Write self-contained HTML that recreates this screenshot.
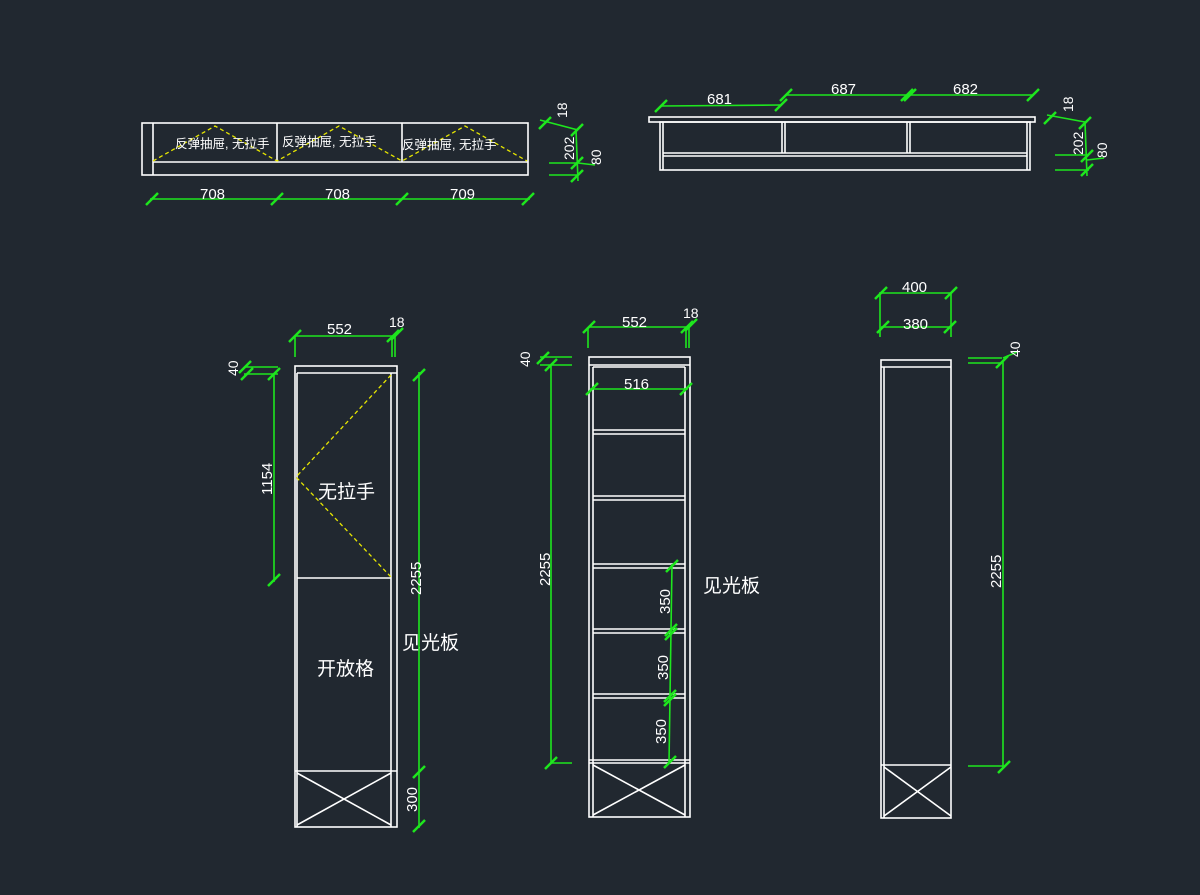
<!DOCTYPE html>
<html><head><meta charset="utf-8"><style>
html,body{margin:0;padding:0;background:#212830;}
svg{display:block}
text{font-family:"Liberation Sans","Noto Sans CJK SC",sans-serif;fill:#fff}
</style></head><body>
<svg width="1200" height="895" viewBox="0 0 1200 895" xmlns="http://www.w3.org/2000/svg">
<rect width="1200" height="895" fill="#212830"/>
<defs>
<g id="tk"><line x1="-6" y1="6" x2="6" y2="-6" stroke="#1ee61e" stroke-width="2.5"/></g>
</defs>
<!-- ===== Top-left cabinet ===== -->
<g fill="none" stroke="#fff" stroke-width="1.6">
<rect x="142" y="123" width="386" height="52"/>
<line x1="153" y1="123" x2="153" y2="175"/>
<line x1="153" y1="162" x2="528" y2="162"/>
<line x1="277" y1="123" x2="277" y2="162"/>
<line x1="402" y1="123" x2="402" y2="162"/>
</g>
<g fill="none" stroke="#e6e600" stroke-width="1.3" stroke-dasharray="4,3">
<polyline points="153,161 215,126 277,161 339,126 402,161 465,126 527,161"/>
</g>
<g font-size="12.5">
<text x="175" y="148">反弹抽屉, 无拉手</text>
<text x="282" y="146">反弹抽屉, 无拉手</text>
<text x="402" y="149">反弹抽屉, 无拉手</text>
</g>
<g stroke="#1ee61e" stroke-width="1.6" fill="none">
<line x1="150" y1="199" x2="530" y2="199"/>
<line x1="549" y1="163" x2="578" y2="163"/><line x1="549" y1="175" x2="578" y2="175"/>
<line x1="540" y1="120" x2="578" y2="130"/>
<line x1="576" y1="130" x2="578" y2="181"/>
<line x1="578" y1="163" x2="595" y2="165"/>
</g>
<use href="#tk" x="152" y="199"/><use href="#tk" x="277" y="199"/><use href="#tk" x="402" y="199"/><use href="#tk" x="528" y="199"/>
<use href="#tk" x="545" y="123"/><use href="#tk" x="577" y="130"/><use href="#tk" x="577" y="163"/><use href="#tk" x="577" y="176"/>
<g font-size="15">
<text x="200" y="199">708</text><text x="325" y="199">708</text><text x="450" y="199">709</text>
<text transform="translate(567,118) rotate(-90)" font-size="14">18</text>
<text transform="translate(574,160) rotate(-90)" font-size="14">202</text>
<text transform="translate(601,165) rotate(-90)" font-size="14">80</text>
</g>

<!-- ===== Top-right cabinet ===== -->
<g fill="none" stroke="#fff" stroke-width="1.6">
<rect x="649" y="117" width="386" height="5"/>
<rect x="660" y="122" width="370" height="48"/>
<line x1="663" y1="122" x2="663" y2="170"/>
<line x1="1027" y1="122" x2="1027" y2="170"/>
<line x1="663" y1="153" x2="1027" y2="153"/>
<line x1="663" y1="156" x2="1027" y2="156"/>
<line x1="782" y1="122" x2="782" y2="153"/><line x1="785" y1="122" x2="785" y2="153"/>
<line x1="907" y1="122" x2="907" y2="153"/><line x1="910" y1="122" x2="910" y2="153"/>
</g>
<g stroke="#1ee61e" stroke-width="1.6" fill="none">
<line x1="660" y1="106" x2="780" y2="105"/>
<line x1="785" y1="95" x2="1034" y2="95"/>
<line x1="1055" y1="155" x2="1089" y2="155"/><line x1="1055" y1="170" x2="1089" y2="170"/>
<line x1="1047" y1="115" x2="1085" y2="122"/>
<line x1="1085" y1="122" x2="1087" y2="176"/>
<line x1="1087" y1="160" x2="1104" y2="158"/>
</g>
<use href="#tk" x="661" y="106"/><use href="#tk" x="781" y="105"/><use href="#tk" x="786" y="95"/><use href="#tk" x="907" y="95"/><use href="#tk" x="910" y="95"/><use href="#tk" x="1033" y="95"/>
<use href="#tk" x="1050" y="118"/><use href="#tk" x="1085" y="123"/><use href="#tk" x="1087" y="156"/><use href="#tk" x="1087" y="170"/>
<g font-size="15">
<text x="707" y="104">681</text><text x="831" y="94">687</text><text x="953" y="94">682</text>
<text transform="translate(1073,112) rotate(-90)" font-size="14">18</text>
<text transform="translate(1083,155) rotate(-90)" font-size="14">202</text>
<text transform="translate(1107,158) rotate(-90)" font-size="14">80</text>
</g>

<!-- ===== Left tall cabinet ===== -->
<g fill="none" stroke="#fff" stroke-width="1.6">
<rect x="295" y="366" width="102" height="461"/>
<line x1="297" y1="373" x2="397" y2="373"/>
<line x1="297" y1="373" x2="297" y2="827"/>
<line x1="391" y1="373" x2="391" y2="827"/>
<line x1="297" y1="578" x2="391" y2="578"/>
<line x1="295" y1="771" x2="397" y2="771"/>
<line x1="297" y1="773" x2="391" y2="825"/>
<line x1="391" y1="773" x2="297" y2="825"/>
</g>
<polyline points="391,375 296,477 391,577" fill="none" stroke="#e6e600" stroke-width="1.3" stroke-dasharray="4,3"/>
<text x="318" y="498" font-size="19">无拉手</text>
<text x="317" y="675" font-size="19">开放格</text>
<text x="402" y="649" font-size="19">见光板</text>
<g stroke="#1ee61e" stroke-width="1.6" fill="none">
<line x1="295" y1="336" x2="395" y2="336"/>
<line x1="295" y1="336" x2="295" y2="357"/>
<line x1="392" y1="336" x2="392" y2="357"/><line x1="395" y1="336" x2="395" y2="357"/>
<line x1="244" y1="367" x2="278" y2="367"/><line x1="244" y1="374" x2="278" y2="374"/>
<line x1="274" y1="374" x2="274" y2="582"/>
<line x1="419" y1="372" x2="419" y2="828"/>
</g>
<use href="#tk" x="295" y="336"/><use href="#tk" x="393" y="336"/><use href="#tk" x="397" y="334"/>
<use href="#tk" x="245" y="367"/><use href="#tk" x="247" y="374"/><use href="#tk" x="274" y="374"/><use href="#tk" x="274" y="580"/>
<use href="#tk" x="419" y="375"/><use href="#tk" x="419" y="772"/><use href="#tk" x="419" y="826"/>
<g font-size="15">
<text x="327" y="334">552</text><text x="389" y="327" font-size="14">18</text>
<text transform="translate(238,376) rotate(-90)" font-size="14">40</text>
<text transform="translate(272,495) rotate(-90)">1154</text>
<text transform="translate(421,595) rotate(-90)">2255</text>
<text transform="translate(417,812) rotate(-90)">300</text>
</g>

<!-- ===== Middle tall cabinet ===== -->
<g fill="none" stroke="#fff" stroke-width="1.6">
<rect x="589" y="357" width="101" height="460"/>
<line x1="589" y1="365" x2="690" y2="365"/>
<line x1="593" y1="367" x2="593" y2="817"/>
<line x1="685" y1="367" x2="685" y2="817"/>
<line x1="593" y1="367" x2="685" y2="367"/>
<g>
<line x1="593" y1="430" x2="685" y2="430"/><line x1="593" y1="434" x2="685" y2="434"/>
<line x1="593" y1="496" x2="685" y2="496"/><line x1="593" y1="500" x2="685" y2="500"/>
<line x1="593" y1="564" x2="685" y2="564"/><line x1="593" y1="568" x2="685" y2="568"/>
<line x1="593" y1="629" x2="685" y2="629"/><line x1="593" y1="633" x2="685" y2="633"/>
<line x1="593" y1="694" x2="685" y2="694"/><line x1="593" y1="698" x2="685" y2="698"/>
<line x1="589" y1="760" x2="690" y2="760"/><line x1="589" y1="763" x2="690" y2="763"/>
</g>
<line x1="593" y1="765" x2="685" y2="815"/>
<line x1="685" y1="765" x2="593" y2="815"/>
</g>
<text x="703" y="592" font-size="19">见光板</text>
<g stroke="#1ee61e" stroke-width="1.6" fill="none">
<line x1="588" y1="327" x2="688" y2="327"/>
<line x1="588" y1="327" x2="588" y2="348"/>
<line x1="686" y1="327" x2="686" y2="348"/><line x1="689" y1="327" x2="689" y2="348"/>
<line x1="540" y1="357" x2="572" y2="357"/><line x1="540" y1="365" x2="572" y2="365"/>
<line x1="551" y1="365" x2="551" y2="763"/>
<line x1="551" y1="763" x2="572" y2="763"/>
<line x1="590" y1="389" x2="688" y2="389"/>
<line x1="672" y1="564" x2="669" y2="763"/>
</g>
<use href="#tk" x="589" y="327"/><use href="#tk" x="687" y="327"/><use href="#tk" x="691" y="325"/>
<use href="#tk" x="543" y="358"/><use href="#tk" x="551" y="365"/><use href="#tk" x="551" y="763"/>
<use href="#tk" x="592" y="389"/><use href="#tk" x="686" y="389"/>
<use href="#tk" x="672" y="566"/><use href="#tk" x="671" y="630"/><use href="#tk" x="671" y="634"/><use href="#tk" x="670" y="696"/><use href="#tk" x="670" y="700"/><use href="#tk" x="670" y="762"/>
<g font-size="15">
<text x="622" y="327">552</text><text x="683" y="318" font-size="14">18</text>
<text x="624" y="389">516</text>
<text transform="translate(530,367) rotate(-90)" font-size="14">40</text>
<text transform="translate(550,586) rotate(-90)">2255</text>
<text transform="translate(670,614) rotate(-90)">350</text>
<text transform="translate(668,680) rotate(-90)">350</text>
<text transform="translate(666,744) rotate(-90)">350</text>
</g>

<!-- ===== Right tall cabinet ===== -->
<g fill="none" stroke="#fff" stroke-width="1.6">
<rect x="881" y="360" width="70" height="458"/>
<line x1="881" y1="367" x2="951" y2="367"/>
<line x1="884" y1="367" x2="884" y2="818"/>
<line x1="881" y1="765" x2="951" y2="765"/>
<line x1="884" y1="767" x2="951" y2="816"/>
<line x1="951" y1="767" x2="884" y2="816"/>
</g>
<g stroke="#1ee61e" stroke-width="1.6" fill="none">
<line x1="879" y1="293" x2="951" y2="293"/>
<line x1="881" y1="327" x2="951" y2="327"/>
<line x1="880" y1="293" x2="880" y2="337"/>
<line x1="951" y1="293" x2="951" y2="337"/>
<line x1="968" y1="358" x2="1002" y2="358"/><line x1="968" y1="363" x2="1002" y2="363"/>
<line x1="1003" y1="362" x2="1003" y2="768"/>
<line x1="968" y1="766" x2="1003" y2="766"/>
<line x1="1003" y1="358" x2="1017" y2="352"/>
</g>
<use href="#tk" x="881" y="293"/><use href="#tk" x="951" y="293"/><use href="#tk" x="883" y="327"/><use href="#tk" x="950" y="327"/>
<use href="#tk" x="1002" y="362"/><use href="#tk" x="1004" y="767"/>
<g font-size="15">
<text x="902" y="292">400</text><text x="903" y="329">380</text>
<text transform="translate(1020,357) rotate(-90)" font-size="14">40</text>
<text transform="translate(1001,588) rotate(-90)">2255</text>
</g>
</svg>
</body></html>
